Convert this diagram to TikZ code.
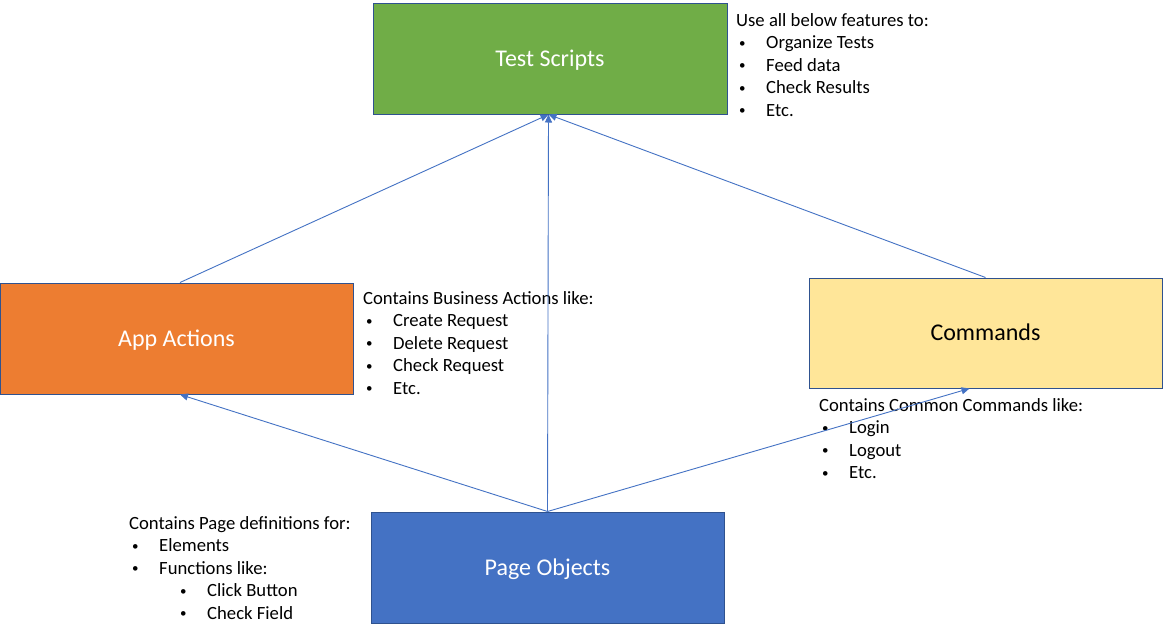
\documentclass[tikz,border=0pt]{standalone}
\usepackage{fontspec}
\setmainfont{Carlito}
\usetikzlibrary{arrows.meta}
\definecolor{cgreen}{HTML}{70AD47}
\definecolor{corange}{HTML}{ED7D31}
\definecolor{cyellow}{HTML}{FFE699}
\definecolor{cblue}{HTML}{4472C4}
\definecolor{cborder}{HTML}{2F528F}
\newcommand{\smallbul}{\raisebox{1.5pt}{\fontsize{13}{13}\selectfont •}}
\newcommand{\bul}[1]{\makebox[30pt][l]{\hspace{3pt}\smallbul}#1}
\newcommand{\subbul}[1]{\hspace{51pt}\makebox[27pt][l]{\smallbul}#1}
\begin{document}
\begin{tikzpicture}[x=1pt,y=-1pt,
  box/.style={draw=cborder,line width=1pt,minimum width=353pt,minimum height=111pt,inner sep=0pt,
    text height=17pt,text depth=1.6pt,font=\fontsize{24}{28}\selectfont},
  note/.style={anchor=base west,inner sep=0pt,font=\fontsize{18.67}{22.5}\selectfont},
  conn/.style={draw=cblue,line width=0.9pt,-{Triangle[length=8pt,width=7pt]}}]
\fill[white] (0,0) rectangle (1163,635);
\useasboundingbox (0,0) rectangle (1163,635);

\node[box,fill=cgreen,text=white,minimum width=354pt] (ts) at (550,58.5) {Test Scripts};
\node[box,fill=corange,text=white] (aa) at (176.5,338.5) {App Actions};
\node[box,fill=cyellow,text=black,minimum height=110pt] (cm) at (985.5,333) {Commands};
\node[box,fill=cblue,text=white] (po) at (547.5,567.5) {Page Objects};

\node[note] (tsn) at (736,26) {\begin{tabular}[t]{@{}l@{}}
Use all below features to:\\
\bul{Organize Tests}\\
\bul{Feed data}\\
\bul{Check Results}\\
\bul{Etc.}
\end{tabular}};

\node[note] (aan) at (363,304) {\begin{tabular}[t]{@{}l@{}}
Contains Business Actions like:\\
\bul{Create Request}\\
\bul{Delete Request}\\
\bul{Check Request}\\
\bul{Etc.}
\end{tabular}};

\node[note] (cmn) at (819,411) {\begin{tabular}[t]{@{}l@{}}
Contains Common Commands like:\\
\bul{Login}\\
\bul{Logout}\\
\bul{Etc.}
\end{tabular}};

\node[note] (pon) at (129,529) {\begin{tabular}[t]{@{}l@{}}
Contains Page definitions for:\\
\bul{Elements}\\
\bul{Functions like:}\\
\subbul{Click Button}\\
\subbul{Check Field}
\end{tabular}};

\draw[conn] ([xshift=3.5pt]aa.north) -- ([xshift=-1.5pt]ts.south);
\draw[conn] (po.north) -- ([xshift=-1.5pt]ts.south);
\draw[conn] (cm.north) -- ([xshift=-1.5pt]ts.south);
\draw[conn] (po.north) -- ([xshift=3.5pt]aa.south);
\draw[conn] (po.north) -- ([xshift=-16pt]cm.south);
\end{tikzpicture}
\end{document}
